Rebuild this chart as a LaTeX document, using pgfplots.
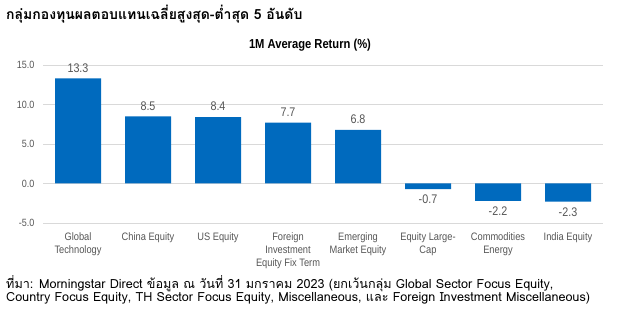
\documentclass[border=0pt]{standalone}
\usepackage{pgfplots}
\pgfplotsset{compat=1.18}
\usepackage{fontspec}
\setmainfont{Liberation Sans}
\newfontfamily\cond[FakeStretch=0.86]{Liberation Sans}
\newfontfamily\thai[Script=Thai]{Loma}
\definecolor{barblue}{RGB}{0,106,190}
\definecolor{labgray}{RGB}{85,85,85}
\definecolor{gridgray}{RGB}{217,217,217}
\begin{document}
\begin{tikzpicture}[x=1pt,y=1pt]
\path (0,0) rectangle (619,321);
\node[anchor=west, inner sep=0] at (6,307) {\thai\bfseries\fontsize{14}{16}\selectfont กลุ่มกองทุนผลตอบแทนเฉลี่ยสูงสุด-ต่ำสุด 5 อันดับ};
\node at (310,276) {\cond\bfseries\fontsize{13}{15}\selectfont 1M Average Return (\%)};
\begin{axis}[at={(43pt,98pt)}, anchor=south west, scale only axis,
  width=560pt, height=158pt,
  xmin=-0.5, xmax=7.5, ymin=-5, ymax=15,
  ybar, bar width=46pt,
  axis line style={draw=none},
  major tick length=0pt,
  ytick={-5,0,5,10,15},
  ymajorgrids, grid style={draw=gridgray, line width=0.8pt},
  /pgf/number format/assume math mode=true,
  yticklabel style={font=\cond\fontsize{10.5}{12}\selectfont, text=labgray, /pgf/number format/fixed, /pgf/number format/fixed zerofill, /pgf/number format/precision=1, xshift=-5pt},
  xtick={0,...,7},
  xticklabels={{Global\\Technology},{China Equity},{US Equity},{Foreign\\Investment\\Equity Fix Term},{Emerging\\Market Equity},{Equity Large-\\Cap},{Commodities\\Energy},{India Equity}},
  xticklabel style={align=center, font=\cond\fontsize{10.8}{13}\selectfont, text=labgray, yshift=-6pt},
  nodes near coords={\pgfmathprintnumber[fixed,fixed zerofill,precision=1,assume math mode=true]{\pgfplotspointmeta}},
  every node near coord/.append style={font=\cond\fontsize{12.5}{14}\selectfont, text=labgray, inner sep=6pt},
]
\addplot[fill=barblue, draw=none] coordinates {(0,13.3) (1,8.5) (2,8.4) (3,7.7) (4,6.8) (5,-0.7) (6,-2.2) (7,-2.3)};
\end{axis}
\node[anchor=north west, align=left, inner sep=0] at (6,46) {\thai\fontsize{12.6}{19}\selectfont ที่มา: Morningstar Direct ข้อมูล ณ วันที่ 31 มกราคม 2023 (ยกเว้นกลุ่ม Global Sector Focus Equity,\\ \thai\fontsize{12.6}{19}\selectfont Country Focus Equity, TH Sector Focus Equity, Miscellaneous, และ Foreign Investment Miscellaneous)};
\end{tikzpicture}
\end{document}
